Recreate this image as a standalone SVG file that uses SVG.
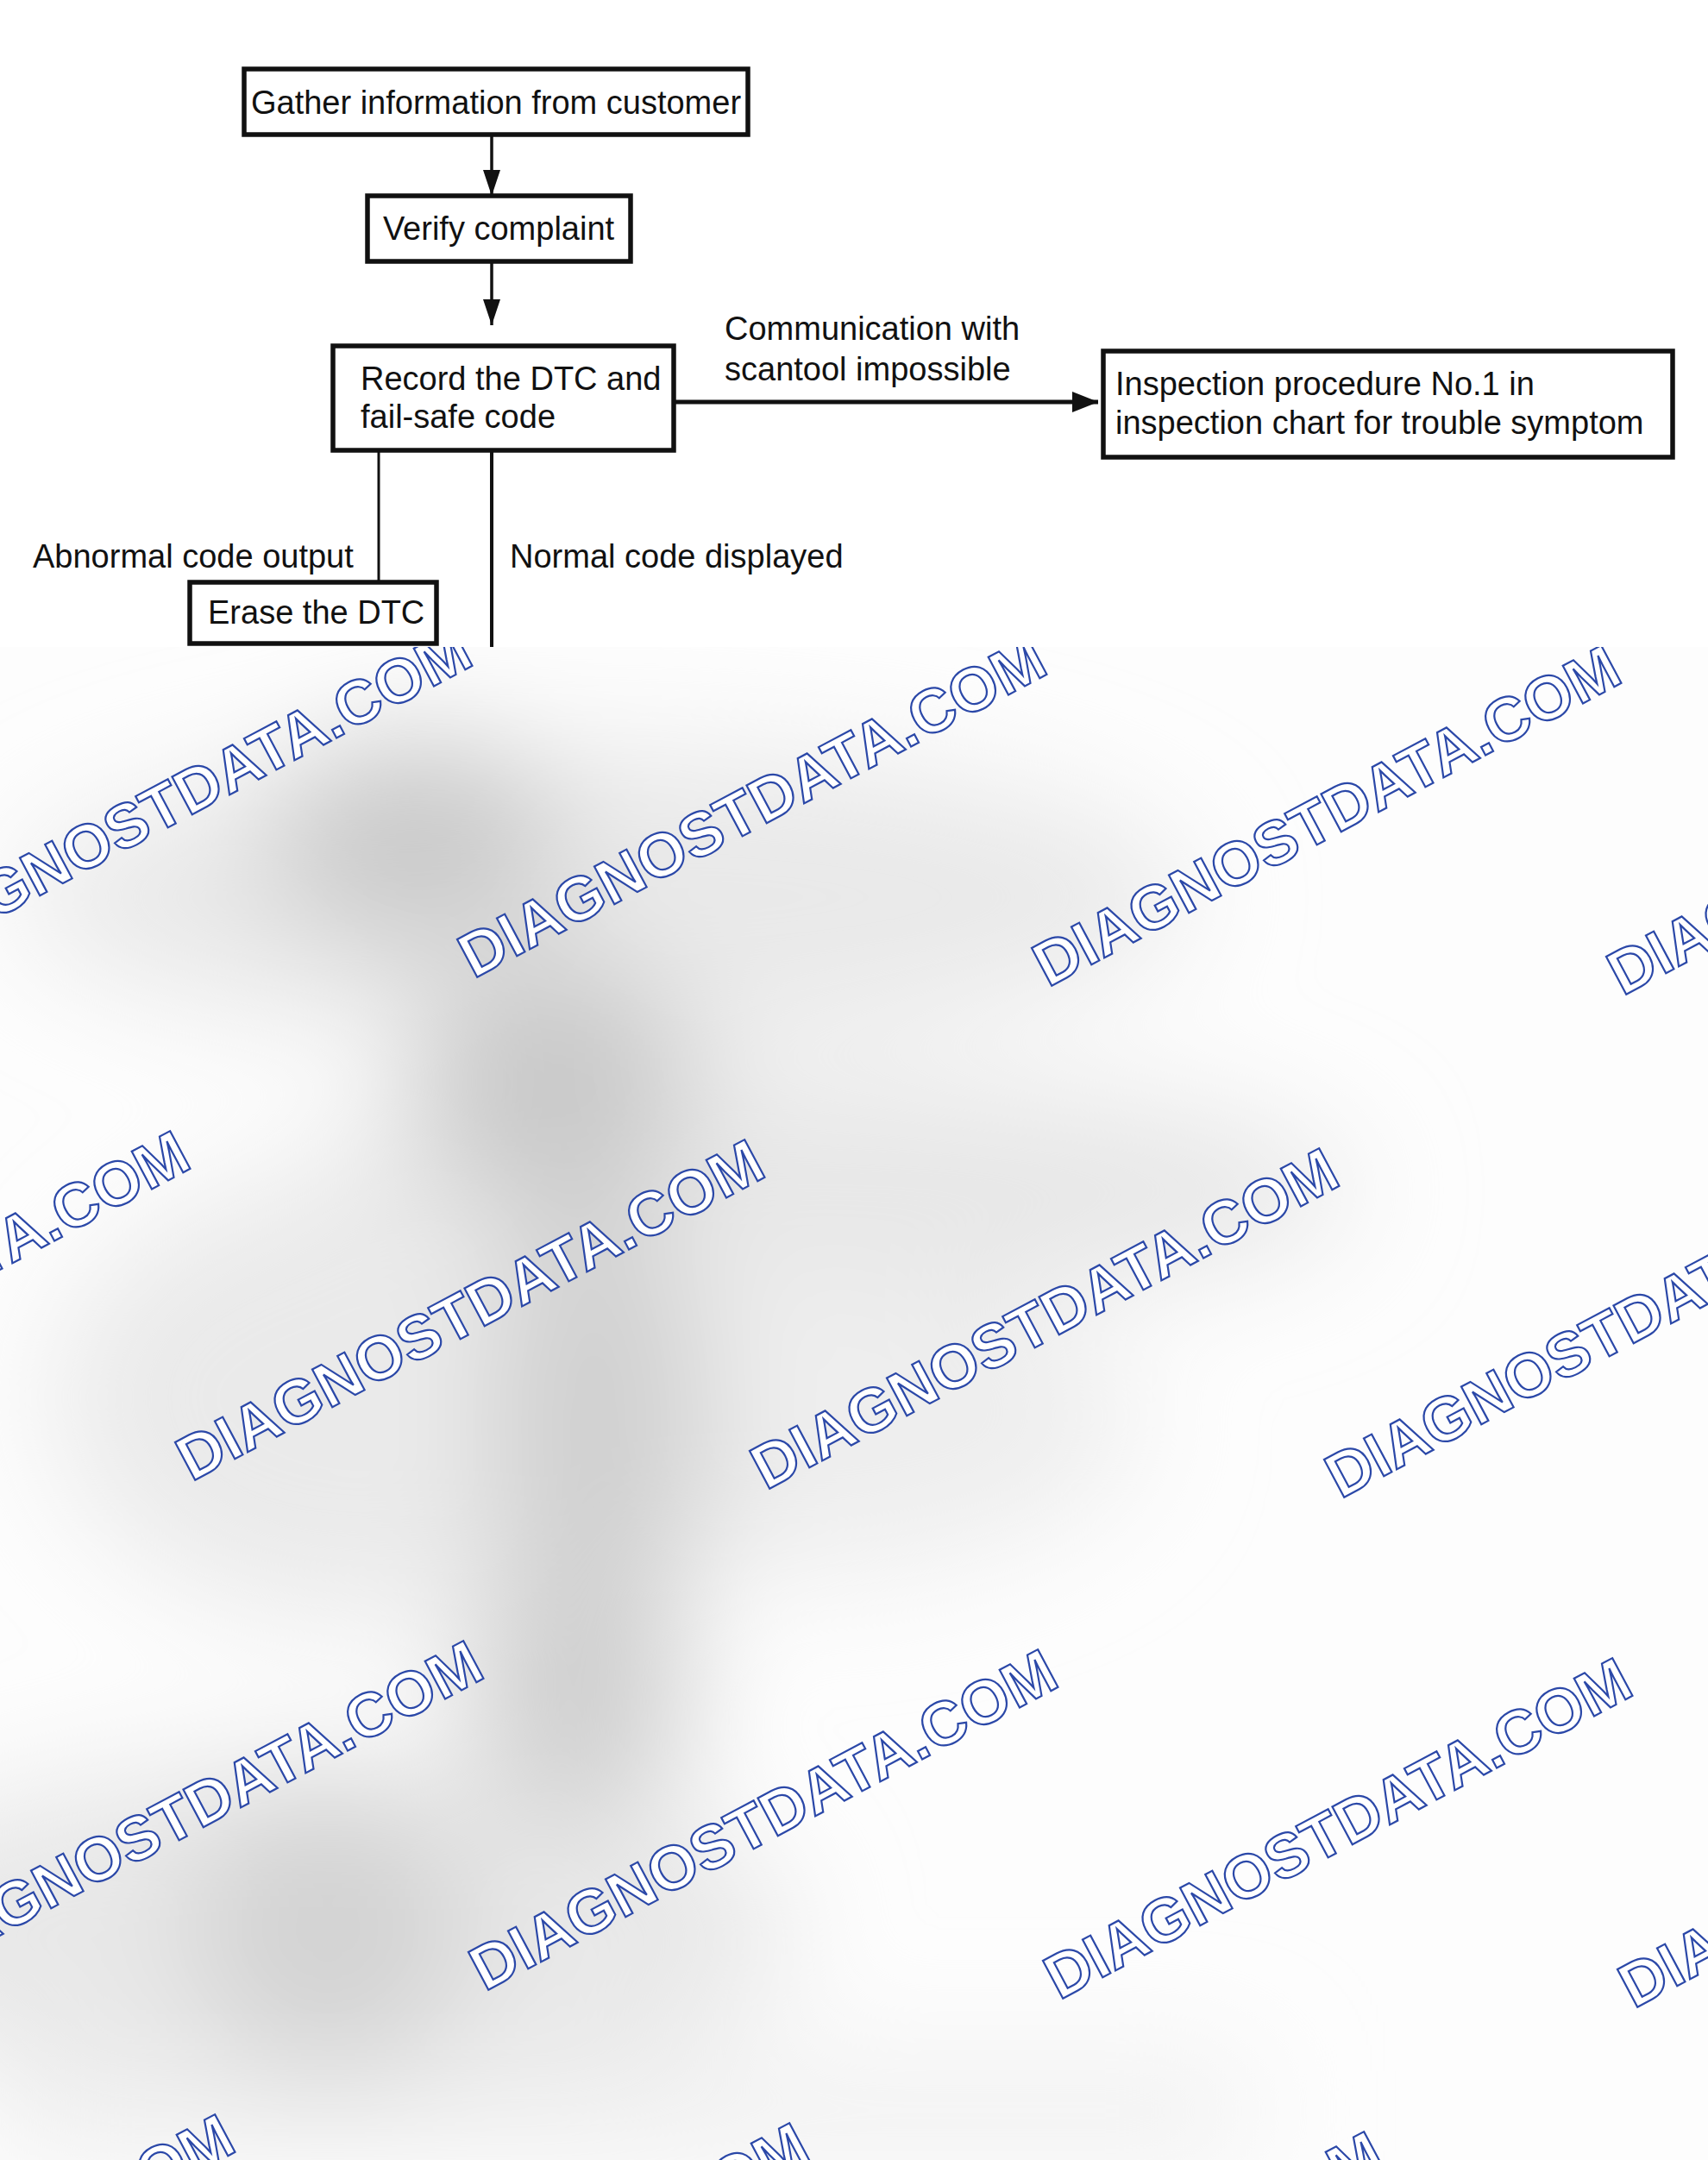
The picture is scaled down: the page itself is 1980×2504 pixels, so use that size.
<svg xmlns="http://www.w3.org/2000/svg" width="1980" height="2504" viewBox="0 0 1980 2504">
<style>
.box{fill:#fff;stroke:#111;stroke-width:5.5}
.t{font-family:"Liberation Sans",Arial,sans-serif;font-size:38px;fill:#111}
.c{text-anchor:middle}
.conn{stroke:#111;fill:none}
.wm{font-family:"Liberation Sans",Arial,sans-serif;font-weight:bold;font-size:72px;fill:#fff;stroke:#2b48a8;stroke-width:2.2}
</style>
<defs>
<marker id="arrS" markerUnits="userSpaceOnUse" markerWidth="30" markerHeight="20" refX="30" refY="10" orient="auto">
<path d="M0,0 L30,10 L0,20 z" fill="#111"/>
</marker>
<marker id="arrL" markerUnits="userSpaceOnUse" markerWidth="30" markerHeight="24" refX="30" refY="12" orient="auto">
<path d="M0,0 L30,12 L0,24 z" fill="#111"/>
</marker>
<clipPath id="ov"><rect x="0" y="750" width="1980" height="1754"/></clipPath>
<filter id="blur" x="-50%" y="-50%" width="200%" height="200%"><feGaussianBlur stdDeviation="70"/></filter>
</defs>
<rect x="0" y="0" width="1980" height="2504" fill="#fff"/>

<g id="connectors">
<line class="conn" x1="570" y1="156" x2="570" y2="227" stroke-width="3.5" marker-end="url(#arrS)"/>
<line class="conn" x1="570" y1="303" x2="570" y2="377" stroke-width="3.5" marker-end="url(#arrS)"/>
<line class="conn" x1="781" y1="466" x2="1273" y2="466" stroke-width="5" marker-end="url(#arrL)"/>
<line class="conn" x1="439" y1="522" x2="439" y2="675" stroke-width="3"/>
<line class="conn" x1="570" y1="522" x2="570" y2="750" stroke-width="4"/>
</g>

<g id="n-gather">
<rect class="box" x="283" y="80" width="584" height="76"/>
<text class="t c" x="575" y="132">Gather information from customer</text>
</g>
<g id="n-verify">
<rect class="box" x="426" y="227" width="305" height="76"/>
<text class="t c" x="578" y="278">Verify complaint</text>
</g>
<g id="n-record">
<rect class="box" x="386" y="401" width="395" height="121"/>
<text class="t" x="418" y="452">Record the DTC and</text>
<text class="t" x="418" y="496">fail-safe code</text>
</g>
<g id="n-inspection">
<rect class="box" x="1279" y="407" width="660" height="123"/>
<text class="t" x="1293" y="458">Inspection procedure No.1 in</text>
<text class="t" x="1293" y="503">inspection chart for trouble symptom</text>
</g>
<g id="n-erase">
<rect class="box" x="220" y="675" width="286" height="71"/>
<text class="t" x="241" y="723">Erase the DTC</text>
</g>
<g id="labels">
<text class="t" x="840" y="394">Communication with</text>
<text class="t" x="840" y="441">scantool impossible</text>
<text class="t" x="38" y="658">Abnormal code output</text>
<text class="t" x="591" y="658">Normal code displayed</text>
</g>

<g id="overlay" clip-path="url(#ov)">
<rect x="0" y="750" width="1980" height="1754" fill="#fdfdfd"/>
<g filter="url(#blur)">
<ellipse cx="700" cy="1040" rx="680" ry="170" fill="#e9e9e9"/>
<ellipse cx="950" cy="1380" rx="620" ry="130" fill="#e7e7e7"/>
<ellipse cx="420" cy="1620" rx="360" ry="260" fill="#eaeaea"/>
<ellipse cx="900" cy="1650" rx="420" ry="180" fill="#eeeeee"/>
<ellipse cx="360" cy="2240" rx="560" ry="200" fill="#e8e8e8"/>
<rect x="0" y="2390" width="1450" height="114" fill="#f0f0f0"/>
<ellipse cx="480" cy="975" rx="170" ry="120" fill="#c9c9c9"/>
<ellipse cx="640" cy="1260" rx="160" ry="150" fill="#c9c9c9"/>
<ellipse cx="690" cy="1650" rx="130" ry="250" fill="#d0d0d0"/>
<ellipse cx="670" cy="1960" rx="130" ry="150" fill="#cfcfcf"/>
<ellipse cx="380" cy="2240" rx="160" ry="170" fill="#d3d3d3"/>
</g>
<g id="watermarks">
<text class="wm" transform="translate(-117,1125) rotate(-28)">DIAGNOSTDATA.COM</text>
<text class="wm" transform="translate(549,1135) rotate(-28)">DIAGNOSTDATA.COM</text>
<text class="wm" transform="translate(1215,1145) rotate(-28)">DIAGNOSTDATA.COM</text>
<text class="wm" transform="translate(1881,1155) rotate(-28)">DIAGNOSTDATA.COM</text>
<text class="wm" transform="translate(-444,1708) rotate(-28)">DIAGNOSTDATA.COM</text>
<text class="wm" transform="translate(222,1718) rotate(-28)">DIAGNOSTDATA.COM</text>
<text class="wm" transform="translate(888,1728) rotate(-28)">DIAGNOSTDATA.COM</text>
<text class="wm" transform="translate(1554,1738) rotate(-28)">DIAGNOSTDATA.COM</text>
<text class="wm" transform="translate(-104,2299) rotate(-28)">DIAGNOSTDATA.COM</text>
<text class="wm" transform="translate(562,2309) rotate(-28)">DIAGNOSTDATA.COM</text>
<text class="wm" transform="translate(1228,2319) rotate(-28)">DIAGNOSTDATA.COM</text>
<text class="wm" transform="translate(1894,2329) rotate(-28)">DIAGNOSTDATA.COM</text>
<text class="wm" transform="translate(-392,2848) rotate(-28)">DIAGNOSTDATA.COM</text>
<text class="wm" transform="translate(274,2858) rotate(-28)">DIAGNOSTDATA.COM</text>
<text class="wm" transform="translate(940,2868) rotate(-28)">DIAGNOSTDATA.COM</text>
<text class="wm" transform="translate(1606,2878) rotate(-28)">DIAGNOSTDATA.COM</text>
</g>
</g>
</svg>
